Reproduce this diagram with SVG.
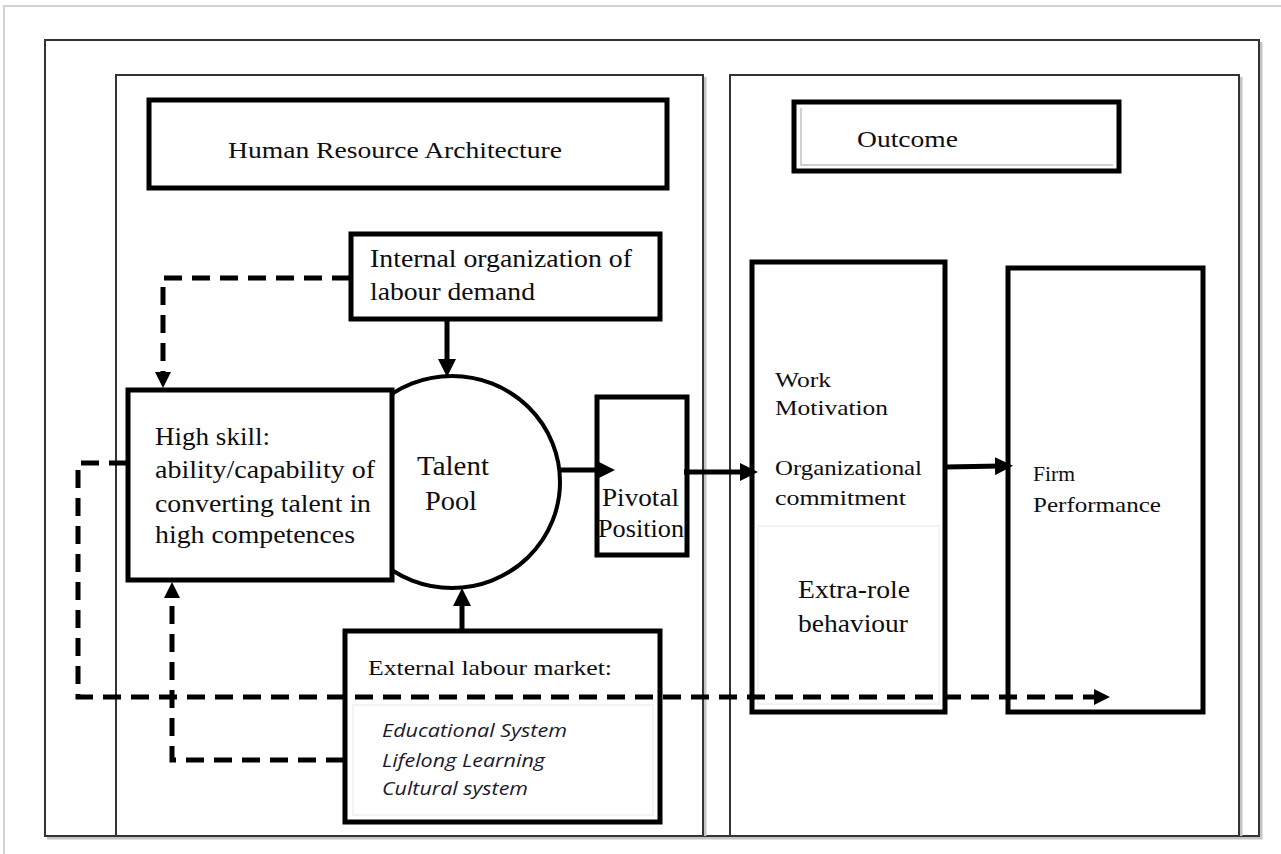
<svg xmlns="http://www.w3.org/2000/svg" width="1281" height="854" viewBox="0 0 1281 854">
<style>
.frame{fill:none;stroke:#333;stroke-width:2}
.shadow{fill:none;stroke:#c4c4c4;stroke-width:3}
.box{fill:#fff;stroke:#000;stroke-width:5}
.faint{fill:none;stroke:#f0f0f0;stroke-width:1.5}
.t{font-family:"Liberation Serif","Times New Roman",serif;fill:#0d0d12}
.it{font-family:"Open Sans","Liberation Sans",sans-serif;font-style:italic;fill:#1a1a2e}
.solid{fill:none;stroke:#000;stroke-width:5}
.dash{fill:none;stroke:#000;stroke-width:5;stroke-dasharray:18 10}
</style>
<defs>
<marker id="ah" markerUnits="userSpaceOnUse" markerWidth="18" markerHeight="18" refX="6" refY="9" orient="auto">
<path d="M0,0 L18,9 L0,18 z" fill="#000"/>
</marker>
<marker id="ahd" markerUnits="userSpaceOnUse" markerWidth="16" markerHeight="16" refX="4" refY="8" orient="auto">
<path d="M0,0 L16,8 L0,16 z" fill="#000"/>
</marker>
</defs>
<rect x="0" y="0" width="1281" height="854" fill="#fff"/>
<path d="M4,854 V6 H1281" fill="none" stroke="#d2d2d2" stroke-width="2"/>

<g id="frames">
<path class="shadow" d="M1261,42 V838 H47"/>
<rect class="frame" x="45" y="40" width="1214" height="796"/>
<path class="shadow" d="M705,77 V836 M1241,77 V836"/>
<rect class="frame" x="116" y="75" width="587" height="761"/>
<rect class="frame" x="730" y="75" width="509" height="761"/>
</g>

<g id="hra-title">
<rect class="box" x="149" y="100" width="518" height="88"/>
<text class="t" x="228" y="158" font-size="24" textLength="334" lengthAdjust="spacingAndGlyphs">Human Resource Architecture</text>
</g>

<g id="outcome-title">
<rect class="box" x="794" y="102" width="325" height="69"/>
<path d="M801,108 V165 H1113" fill="none" stroke="#d0d0d0" stroke-width="2"/>
<text class="t" x="857" y="147" font-size="24" textLength="101" lengthAdjust="spacingAndGlyphs">Outcome</text>
</g>

<g id="internal">
<rect class="box" x="351" y="234" width="309" height="85"/>
<text class="t" x="370" y="267" font-size="26" textLength="262" lengthAdjust="spacingAndGlyphs">Internal organization of</text>
<text class="t" x="370" y="300" font-size="26" textLength="165" lengthAdjust="spacingAndGlyphs">labour demand</text>
</g>

<g id="talent-pool">
<ellipse cx="452" cy="482" rx="108" ry="106" fill="#fff" stroke="#000" stroke-width="4"/>
<text class="t" x="417" y="475" font-size="28" textLength="72" lengthAdjust="spacingAndGlyphs">Talent</text>
<text class="t" x="425" y="510" font-size="28" textLength="52" lengthAdjust="spacingAndGlyphs">Pool</text>
</g>

<g id="high-skill">
<rect class="box" x="128" y="390" width="264" height="190"/>
<text class="t" x="155" y="445" font-size="25" textLength="115" lengthAdjust="spacingAndGlyphs">High skill:</text>
<text class="t" x="155" y="478" font-size="25" textLength="220" lengthAdjust="spacingAndGlyphs">ability/capability of</text>
<text class="t" x="155" y="512" font-size="25" textLength="216" lengthAdjust="spacingAndGlyphs">converting talent in</text>
<text class="t" x="155" y="543" font-size="25" textLength="200" lengthAdjust="spacingAndGlyphs">high competences</text>
</g>

<g id="pivotal">
<rect class="box" x="597" y="397" width="90" height="158"/>
<text class="t" x="602" y="506" font-size="26" textLength="77" lengthAdjust="spacingAndGlyphs">Pivotal</text>
<text class="t" x="598" y="537" font-size="26" textLength="86" lengthAdjust="spacingAndGlyphs">Position</text>
</g>

<g id="work">
<rect class="box" x="752" y="262" width="193" height="450"/>
<rect class="faint" x="758" y="526" width="181" height="178"/>
<text class="t" x="775" y="387" font-size="21" textLength="56" lengthAdjust="spacingAndGlyphs">Work</text>
<text class="t" x="775" y="415" font-size="21" textLength="113" lengthAdjust="spacingAndGlyphs">Motivation</text>
<text class="t" x="775" y="475" font-size="21" textLength="147" lengthAdjust="spacingAndGlyphs">Organizational</text>
<text class="t" x="775" y="505" font-size="21" textLength="131" lengthAdjust="spacingAndGlyphs">commitment</text>
<text class="t" x="798" y="598" font-size="26" textLength="112" lengthAdjust="spacingAndGlyphs">Extra-role</text>
<text class="t" x="798" y="632" font-size="26" textLength="110" lengthAdjust="spacingAndGlyphs">behaviour</text>
</g>

<g id="firm">
<rect class="box" x="1008" y="268" width="195" height="444"/>
<text class="t" x="1033" y="481" font-size="21" textLength="42" lengthAdjust="spacingAndGlyphs">Firm</text>
<text class="t" x="1033" y="512" font-size="21" textLength="128" lengthAdjust="spacingAndGlyphs">Performance</text>
</g>

<g id="external">
<rect class="box" x="345" y="631" width="315" height="191"/>
<rect class="faint" x="353" y="705" width="300" height="110"/>
<text class="t" x="368" y="675" font-size="22" textLength="244" lengthAdjust="spacingAndGlyphs">External labour market:</text>
<text class="it" x="382" y="737" font-size="19" textLength="185" lengthAdjust="spacingAndGlyphs">Educational System</text>
<text class="it" x="382" y="767" font-size="19" textLength="163" lengthAdjust="spacingAndGlyphs">Lifelong Learning</text>
<text class="it" x="382" y="795" font-size="19" textLength="146" lengthAdjust="spacingAndGlyphs">Cultural system</text>
</g>

<g id="connectors">
<line class="solid" x1="447" y1="320" x2="447" y2="365" marker-end="url(#ah)"/>
<line class="solid" x1="462" y1="630" x2="462" y2="600" marker-end="url(#ah)"/>
<line class="solid" x1="558" y1="470" x2="603" y2="470" stroke-width="7" marker-end="url(#ah)"/>
<line class="solid" x1="684" y1="472" x2="746" y2="472" marker-end="url(#ah)"/>
<line class="solid" x1="946" y1="467" x2="1001" y2="466" stroke-width="6" marker-end="url(#ah)"/>
<path class="dash" d="M350,278 H163 V376" marker-end="url(#ahd)"/>
<path class="dash" d="M127,463 H78 V697 H1098" marker-end="url(#ahd)"/>
<path class="dash" d="M344,760 H172 V594" marker-end="url(#ahd)"/>
</g>
</svg>
